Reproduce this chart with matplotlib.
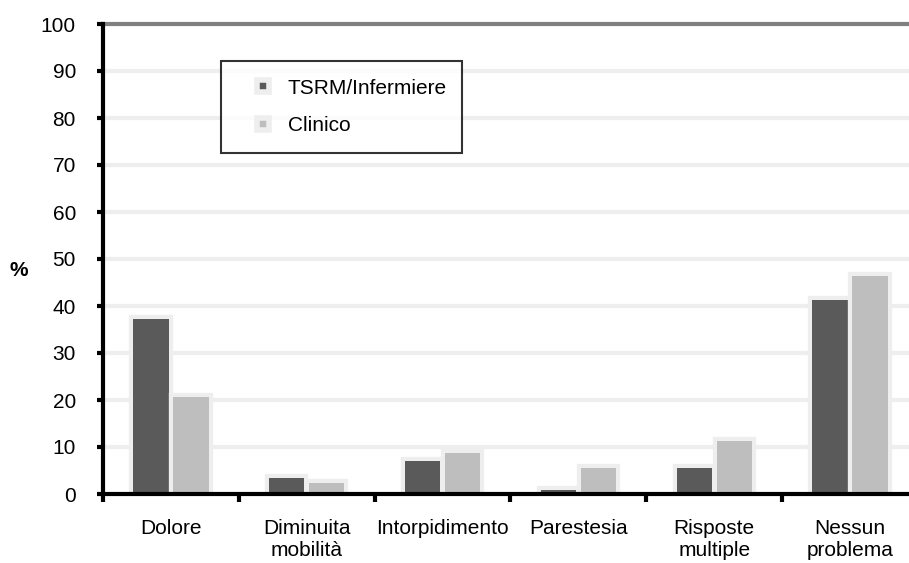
import numpy as np
import matplotlib.pyplot as plt
import matplotlib.patheffects as pe
from matplotlib.lines import Line2D

plt.rcParams['font.family'] = ['Liberation Sans', 'DejaVu Sans']

categorie = ['Dolore', 'Diminuita\nmobilità', 'Intorpidimento', 'Parestesia',
             'Risposte\nmultiple', 'Nessun\nproblema']
tsrm = [37.2, 3.4, 7.1, 0.9, 5.5, 41.3]
clinico = [20.6, 2.3, 8.7, 5.5, 11.3, 46.4]
serie = ['TSRM/Infermiere', 'Clinico']
colori = ['#5a5a5a', '#bebebe']

fig = plt.figure(figsize=(9.09, 5.63), dpi=100)
# l'asse continua oltre il bordo destro come nell'originale
ax = fig.add_axes([103/909, 69/563, 815/909, 470/563])

x = np.arange(len(categorie))
w = 0.26
bordo = [pe.withStroke(linewidth=6, foreground='#eeeeee')]
ax.bar(x - 0.147, tsrm, w, color=colori[0], linewidth=0, zorder=2, path_effects=bordo)
ax.bar(x + 0.147, clinico, w, color=colori[1], linewidth=0, zorder=2, path_effects=bordo)

ax.set_xlim(-0.5, len(categorie) - 0.5)
ax.set_ylim(0, 100)
ax.set_yticks(range(0, 101, 10))
for v in range(10, 100, 10):
    ax.axhline(v, color='#eeeeee', linewidth=3, zorder=1)
ax.axhline(100, color='#808080', linewidth=3, zorder=2, clip_on=False)

# tick categorie sui bordi, etichette al centro
ax.set_xticks(np.arange(len(categorie) + 1) - 0.5)
ax.set_xticklabels([])
ax.tick_params(axis='x', length=6, width=3, direction='out')
for i, c in enumerate(categorie):
    ax.text(i, -5.3, c, ha='center', va='top', fontsize=15, linespacing=1.2)

ax.tick_params(axis='y', length=4.5, width=3, direction='out', labelsize=15, pad=15)
ax.spines['left'].set_linewidth(3)
ax.spines['bottom'].set_linewidth(3)
ax.spines['left'].set_zorder(4)
ax.spines['bottom'].set_zorder(4)
ax.spines['top'].set_visible(False)
ax.spines['right'].set_visible(False)

fig.text(19/909, 1 - 271/563, '%', fontsize=15, fontweight='bold', ha='center', va='center')

handles = [Line2D([], [], linestyle='none', marker='s', markersize=9,
                  markerfacecolor=c, markeredgecolor='#eeeeee', markeredgewidth=4)
           for c in colori]
leg = ax.legend(handles, serie, loc='upper left',
                bbox_to_anchor=(118/815, 0, 241/815, 1 - 37/470), mode='expand',
                fontsize=15, frameon=True, fancybox=False, edgecolor='black',
                handlelength=2.3, handletextpad=0.05,
                borderpad=0.85, labelspacing=0.9, borderaxespad=0)
leg.get_frame().set_linewidth(1.5)
leg.set_zorder(5)

fig.savefig('out.png', dpi=100)
